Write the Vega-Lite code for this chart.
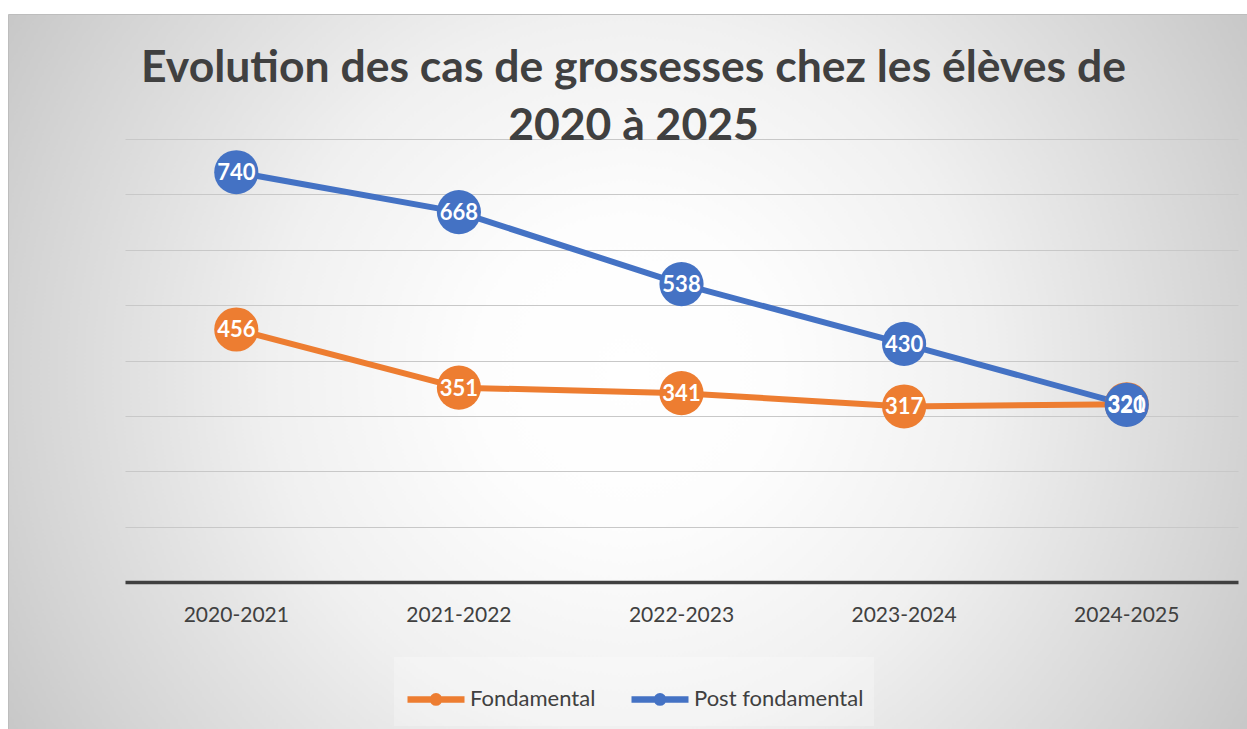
{
  "$schema": "https://vega.github.io/schema/vega-lite/v6.json",
  "width": 1239,
  "height": 715,
  "autosize": {"type": "none"},
  "padding": {"left": 8, "top": 14, "right": 0, "bottom": 0},
  "background": "white",
  "view": {
    "fill": {
      "gradient": "radial",
      "x1": 0.5, "y1": 0.5, "r1": 0,
      "x2": 0.5, "y2": 0.5, "r2": 0.6,
      "stops": [
        {"offset": 0, "color": "#ffffff"},
        {"offset": 0.2, "color": "#fdfdfd"},
        {"offset": 0.48, "color": "#f0f0f0"},
        {"offset": 0.82, "color": "#d4d4d4"},
        {"offset": 1, "color": "#c4c4c4"}
      ]
    },
    "stroke": "#bdbdbd",
    "strokeWidth": 1
  },
  "title": {
    "text": ["Evolution des cas de grossesses chez les élèves de", "2020 à 2025"],
    "orient": "top",
    "anchor": "middle",
    "frame": "group",
    "offset": -135,
    "dx": 6,
    "font": "Lato",
    "fontSize": 44.5,
    "fontWeight": "bold",
    "color": "#404040",
    "lineHeight": 58
  },
  "data": {
    "values": [
      {"annee": "2020-2021", "serie": "Fondamental", "cas": 456},
      {"annee": "2021-2022", "serie": "Fondamental", "cas": 351},
      {"annee": "2022-2023", "serie": "Fondamental", "cas": 341},
      {"annee": "2023-2024", "serie": "Fondamental", "cas": 317},
      {"annee": "2024-2025", "serie": "Fondamental", "cas": 321},
      {"annee": "2020-2021", "serie": "Post fondamental", "cas": 740},
      {"annee": "2021-2022", "serie": "Post fondamental", "cas": 668},
      {"annee": "2022-2023", "serie": "Post fondamental", "cas": 538},
      {"annee": "2023-2024", "serie": "Post fondamental", "cas": 430},
      {"annee": "2024-2025", "serie": "Post fondamental", "cas": 320}
    ]
  },
  "encoding": {
    "x": {
      "field": "annee",
      "type": "nominal",
      "sort": null,
      "scale": {"type": "band", "range": [117, 1230], "paddingInner": 0, "paddingOuter": 0},
      "axis": {
        "title": null,
        "orient": "bottom",
        "offset": -147,
        "domain": true,
        "domainColor": "#404040",
        "domainWidth": 3.5,
        "ticks": false,
        "tickSize": 0,
        "grid": false,
        "labelAngle": 0,
        "labelFont": "Lato",
        "labelFontSize": 21,
        "labelColor": "#404040",
        "labelPadding": 33,
        "labelBaseline": "middle"
      }
    },
    "y": {
      "field": "cas",
      "type": "quantitative",
      "scale": {"domain": [0, 800], "range": [568, 125], "nice": false, "zero": true},
      "axis": {
        "title": null,
        "orient": "left",
        "labels": false,
        "ticks": false,
        "domain": false,
        "grid": true,
        "gridColor": "#c8c8c8",
        "gridWidth": 1.2,
        "values": [100, 200, 300, 400, 500, 600, 700, 800]
      }
    },
    "color": {
      "field": "serie",
      "type": "nominal",
      "sort": ["Fondamental", "Post fondamental"],
      "scale": {"domain": ["Fondamental", "Post fondamental"], "range": ["#ED7D31", "#4472C4"]},
      "legend": {
        "title": null,
        "orient": "none",
        "legendX": 386,
        "legendY": 643,
        "direction": "horizontal",
        "symbolType": "M-1,0H1M0.11,0A0.11,0.11,0,1,1,-0.11,0A0.11,0.11,0,1,1,0.11,0",
        "symbolSize": 3249,
        "symbolStrokeWidth": 6.5,
        "labelFont": "Lato",
        "labelFontSize": 22,
        "labelColor": "#404040",
        "labelOffset": 2,
        "labelLimit": 400,
        "columnPadding": 22,
        "padding": 10,
        "fillColor": "rgba(255,255,255,0.25)"
      }
    }
  },
  "layer": [
    {
      "mark": {"type": "line", "strokeWidth": 6, "strokeCap": "round", "strokeJoin": "round"}
    },
    {
      "mark": {"type": "point", "shape": "circle", "filled": true, "opacity": 1, "size": 1950}
    },
    {
      "mark": {"type": "text", "color": "white", "font": "Lato", "fontSize": 22, "fontWeight": "bold", "align": "center", "baseline": "middle", "dy": 1},
      "encoding": {
        "text": {"field": "cas", "type": "quantitative"},
        "color": {"value": "white"}
      }
    }
  ]
}
